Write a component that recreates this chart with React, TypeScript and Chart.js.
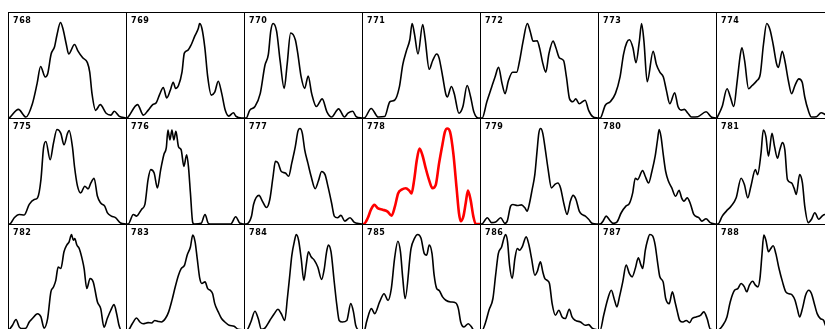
import React, { useEffect, useRef } from "react";
import { Chart, registerables } from "chart.js";

Chart.register(...registerables);

// Panel labels (row-major, 7 per row)
const PANEL_LABELS = [
  "768", "769", "770", "771", "772", "773", "774",
  "775", "776", "777", "778", "779", "780", "781",
  "782", "783", "784", "785", "786", "787", "788",
];
const HIGHLIGHT_LABEL = "778";

// Each series: [position (0-100), relative intensity (0-100)]
const s768 = [[0,0],[1,1],[8,9],[14.5,1],[20,15],[24,36],[27,54],[31,43],[33,46],[36,67],[39,75],[41,87],[44,100],[46,94],[49,77],[51,67],[56,77],[59,70],[63,63],[67,58],[69,48],[71,25],[74,8],[78,14],[83,5],[87,3],[90,7],[94,2],[100,0]];
const s769 = [[0,0],[1,1],[9,14],[14,3],[18,8],[22,14],[25,16],[28,25],[31,32],[34,21],[37,29],[39.5,37.5],[41.5,31],[44,34],[47,48],[49,68],[52,71],[55,77],[58,86],[61,94],[62,99],[64,94],[66.5,74],[69,43],[72,24],[75,27],[78,38.5],[81,25.5],[84,8],[87,2],[91,5.5],[93,2],[98,0],[100,0]];
const s770 = [[0,0],[1,0],[4,8],[8.5,12],[13,25.5],[17,55],[20,67],[22,91],[24,99],[27,91],[30,60],[33.5,31],[36,56],[39,89],[43,82],[45,68.5],[48,43],[51,31],[54,44],[57,25.5],[61,12],[66,20],[70,6.5],[74,1],[80,9.6],[85,1],[88,5],[92,7],[95,1.5],[100,0]];
const s771 = [[0,0],[1,0],[7,10],[13,1],[18.5,1.5],[23,17],[27,18.6],[31,32],[34,56],[37,70],[40,82],[42,99],[44,88],[47,67],[51,98],[53,84],[56.6,51],[59.5,60],[63,67],[65,63],[68,44],[71,24],[72,22],[75.6,33],[78,25.5],[82,5],[85.4,12],[89,34],[92,22],[94.7,6.5],[98.5,0],[100,0]];
const s772 = [[0,0],[1,0],[5,17],[9,32],[12,43],[15,53],[18,36],[20.6,25.5],[23.4,39],[27,48],[30.5,48],[33,60],[36,80.5],[39.6,99],[42,91],[44.6,80.5],[48,81],[50,73.6],[53,56.4],[55.4,48],[58,67],[61.6,80.5],[64,73.6],[67,63],[70.6,60],[73,43],[75.7,20],[78.5,17],[81,20],[84,15],[89,18.6],[92,8],[95.5,1.4],[100,0]];
const s773 = [[0,0],[1,0],[5.4,13.4],[9.6,17],[14,25.5],[18,43],[21,67],[23.7,79],[26,82],[29,73.6],[31.6,58],[34.5,80.5],[36.4,99],[38.4,80.5],[41.2,38],[46.3,70],[49,56.4],[52,48],[55,43],[57.6,29],[60.5,15],[64.7,26.5],[67.5,12],[70.3,8.3],[73,9],[76,5],[79,1],[84.5,1.4],[91.5,6.5],[96,1],[100,0]];
const s774 = [[0,0],[4.4,12],[8.6,30.6],[11.4,22],[14.3,12],[17,36],[20,67],[21.3,73.6],[23.6,60],[27,30.6],[30,34],[34,39],[37,46],[39.7,77],[42.5,99],[45.3,92.5],[48,77],[51,56.4],[52.4,53],[55.8,70],[58,60],[61,39],[63.7,25.5],[66.6,34],[70,41],[72.8,37.5],[75,22],[78,8],[80.7,1],[85,1.4],[89,5.5],[92,4],[96,1],[100,0]];
const s775 = [[0,0],[0.6,0],[4.5,6.6],[8.8,10],[13,9.4],[17.3,20.5],[21.6,25.7],[24.4,27.4],[27.3,46.5],[29.5,79.5],[31.5,86.4],[35.2,67.3],[38,84.6],[41,99],[44.3,95],[47,83],[50,95],[51.4,98],[54.2,81],[56,60],[58.5,40],[61.3,32.6],[64.8,39.6],[67.6,36.8],[70,43],[72.7,48],[75.6,29],[78.4,22],[81.8,18.7],[84,12],[87.5,8.3],[91,6.6],[95.4,1],[100,0]];
const s776 = [[0,0],[1,0],[5.4,10],[8.2,8.3],[12.4,15.3],[15.3,20.5],[18,46.5],[20.3,57],[23.2,53.4],[26,37.8],[28.8,57],[31.6,73],[33.6,80],[35,98.5],[36.7,88],[38.4,98.5],[40,88],[41.8,97],[44,81],[46.3,77.7],[48.6,60.4],[51,72.5],[52.5,60.4],[54.2,32.6],[56.2,1.4],[57.6,0],[63.3,0.7],[66.7,10],[69.5,0.7],[72,0],[88.7,0],[92.9,7.6],[96.6,0.7],[100,0]];
const s777 = [[0,0],[1,0],[5.6,8.3],[7.3,20.5],[12,30],[14.7,24.3],[18.4,17.3],[21.2,25.7],[24,50],[26,65.6],[28.2,64],[31,55],[34.5,53.4],[37.3,50],[40,64],[43,81],[45.2,97],[47,100],[49,95],[51,78],[53.7,64],[56.5,50],[60,37],[62.7,45],[65.5,55],[68.4,51.7],[71.2,37.8],[74,22],[76.3,8.3],[79,6.6],[82,9],[85.3,3],[89.8,6.6],[93.2,2],[96,0.7],[100,0]];
const s778 = [[0,0],[0.6,0],[4,6],[6.8,15],[9.7,20],[12.5,16.7],[16.8,15],[21,13],[24.4,8.7],[27.3,18.4],[30,32],[33,36],[36.6,37.5],[39.5,35],[41.5,32],[43.7,46],[46,67],[48.3,79],[50.8,72],[53.7,58],[56.5,46],[59.4,37.5],[62.2,41],[65,63.5],[68,84],[70,96.5],[72,100],[74.4,96.5],[77.2,74],[80,37.5],[82,11.5],[83.5,3],[85.8,8],[87.8,22],[89.7,35],[92,25],[94.3,8],[96.3,0],[100,0]];
const s779 = [[0,0],[0.6,0],[5.4,6.6],[9,1.4],[12.5,2],[16.8,6.6],[20.4,0.7],[22.4,3],[25.3,18.7],[27.3,20.5],[31,19.4],[34.6,20],[37.5,17],[39.5,13.5],[41.5,22],[43.7,36],[46,51.7],[48,77.7],[49.4,95],[51,100],[52.8,95],[55,77.7],[57.4,57],[60.2,37.8],[63,41.3],[65.6,43],[68,37.8],[70.7,22],[73.6,10],[76.4,24],[78.7,30],[81.2,25.7],[84,13.5],[86.3,10],[89.2,8.3],[92,5],[95,0.7],[100,0]];
const s780 = [[0,0],[1,0],[3.4,3],[6.2,8.3],[9,4.2],[12,0.7],[15.3,2],[19,11.8],[23,18.7],[26,21.5],[28.8,32.6],[31,48],[33,46.5],[37.3,56],[39.5,50],[42.4,43],[45.2,55],[48,71],[50,88],[51.4,99],[53,91.6],[54.8,74],[57,55],[59.3,45],[62.2,37.8],[65.5,29],[68.4,35.4],[70.6,27.4],[72.6,24],[75.4,27.4],[78.3,20.5],[81,10],[85.3,6.6],[88,3],[91.5,5.5],[95,1.4],[100,0]];
const s781 = [[0,0],[0.8,0],[4.5,8.3],[8,13.5],[12,18.7],[16.4,27.4],[20.6,48],[23.4,41.3],[26.3,27.4],[29,39.6],[32.8,57],[34.7,51.7],[37.6,74],[39.6,98.5],[41.8,91.6],[44,71],[47,95],[49.2,81],[51.7,69],[53.7,77.7],[56,85.3],[58,77.7],[60.2,46.5],[63.8,43],[65.8,37.8],[67.8,31],[70.6,51.7],[73,43],[75,18.7],[78,1.4],[80.8,5],[83.6,11.8],[87,5],[89.8,8.3],[92,10],[96,4],[100,0]];
const s782 = [[0,0],[3,5],[6,11],[8.8,3],[11.6,1.4],[14.5,2],[17.3,8.4],[20,12],[24.4,17],[27.3,13.7],[30,2],[33,12],[35.8,40],[38,45],[40,52],[42,66],[44.3,64.4],[47,82],[49.4,89],[51.4,92.4],[53.4,100],[55,94],[56.2,95.7],[58,89],[60,85.4],[62.8,73],[64.2,64.4],[66.5,43.4],[69.3,54],[72,50.4],[75.6,29.4],[78.4,22.4],[81.2,3],[84,12],[87,20.7],[89.8,26.6],[92,17],[94,5],[96,0],[100,0]];
const s783 = [[0,0],[1,0],[4.5,6.6],[8.2,12.6],[11,8.4],[13.8,6.6],[18,7.7],[21,7.4],[23.7,10],[26.6,9],[29.4,8.4],[32.8,12],[35.6,19],[38.4,31],[41.2,45],[44,57.4],[46.3,64.4],[49.2,68],[51.4,78.4],[54.2,87],[56.2,99.4],[58.2,92.4],[60,75],[62.2,54],[64,48.7],[66.7,50.4],[69,43.4],[71.2,41.6],[73.2,38],[75,27.6],[78,19],[80.8,12],[83.6,8.4],[87.3,5],[91.5,3.9],[95,0.7],[100,0]];
const s784 = [[0,0],[1.4,0],[5,8.4],[8.5,19.6],[11.3,12],[14,0.7],[17,2],[21.2,10],[25,17],[28.2,21.7],[31,17],[34,10],[36.2,33],[38,54],[40,78],[42.4,94],[43.8,100],[45.8,94],[48,75],[50.3,52],[52.3,68],[54.2,82],[56.5,76.7],[59.3,73],[62.2,66],[65.5,53],[67.8,64.4],[69.5,80],[71.2,89],[73.5,82],[76.3,50],[78.5,26],[80.5,10],[83.3,8.4],[87,10],[90.4,27.6],[92.7,19],[94.6,5],[97.5,0],[100,0]];
const s785 = [[0,0],[1.3,0],[3,8.4],[7.2,22.4],[10,17.2],[14.2,29.4],[18,38],[21.4,31],[24.2,43.4],[27,75],[29.8,93],[32,82],[34,54],[36,33],[41,85],[44,96],[46.8,100],[49.6,96],[52.4,80],[54.4,78.4],[56.6,89],[59,80],[60.8,57.4],[63,43.4],[65,41.6],[68,34.7],[70.8,31.2],[75,29.4],[79.2,28.4],[81.5,22.4],[83.5,8.4],[86.3,3.2],[90,6.6],[92.8,3.2],[94.7,0],[100,0]];
const s786 = [[0,0],[1,0],[4,8.4],[6.8,20.7],[10.2,33],[12.5,57.4],[14.8,80],[17.6,87],[19.6,96],[21,100],[22.7,92.4],[24.4,68],[26.7,54],[29,75],[31,85.4],[33,83.6],[35.2,87],[38.6,97.6],[41,89],[43.2,75],[46,57.4],[48,61],[50.8,71.4],[52.8,61],[54.5,54],[56.5,52],[58.5,48.7],[60.8,27.6],[63.6,15.4],[66.5,20.7],[69.3,13.7],[72,12],[75.5,21.7],[77.8,13.7],[80.7,10],[85,8.4],[89.2,5],[92,5.6],[95,2],[100,0]];
const s787 = [[0,0],[1,0],[4,15.4],[7.6,33],[10.5,41.6],[13.3,31.2],[15.3,24.2],[17.5,34.7],[20.3,50.4],[23.2,68],[26,59],[28.3,55.7],[31,64.4],[33.6,75.6],[35.9,68],[37.3,64.4],[39.6,83.6],[41.5,94],[43.5,100],[45.8,98.6],[48,89],[50,71.4],[52,55.7],[54.8,50.4],[57,33],[60,27.6],[62.7,40],[65,29.4],[67,19],[69,10],[71.8,8.4],[74.6,10],[77.4,7.7],[79.7,12],[83,13.7],[86.7,15.4],[89.6,19],[92.4,12],[95.2,0.7],[100,0]];
const s788 = [[0,0],[1,0],[5,5],[8.5,13.7],[11.3,29.4],[15,41.6],[17.8,43.4],[20.6,48.7],[23.4,45.2],[25.4,40],[27.7,47],[30.5,51],[32.8,47],[35,45.2],[36.7,54],[38.4,78.4],[40,99.4],[41.8,94],[44,82],[46,85.4],[48,88.2],[50.3,80],[53,64.4],[56,50.4],[58.8,40],[61.6,38],[64.4,36.4],[66.7,31.2],[68.6,22.4],[70.6,13.7],[73,22.4],[75.7,36.4],[78.5,41.6],[80.8,38],[82.8,29.4],[85.6,17.2],[88.4,12],[91.2,10],[92.7,5],[96,2],[100,0]];

const SERIES = [
  s768, s769, s770, s771, s772, s773, s774,
  s775, s776, s777, s778, s779, s780, s781,
  s782, s783, s784, s785, s786, s787, s788,
];

const COLS = 7;
const PANEL_W = 118;
const PANEL_H = 106;
const ORIGIN_X = 8;
const ORIGIN_Y = 12;

function Panel({ label, points, index }: { label: string; points: number[][]; index: number }) {
  const ref = useRef<HTMLCanvasElement>(null);
  const col = index % COLS;
  const row = Math.floor(index / COLS);
  useEffect(() => {
    const hl = label === HIGHLIGHT_LABEL;
    const chart = new Chart(ref.current!, {
      type: "line",
      data: {
        datasets: [
          {
            data: points.map(([x, y]) => ({ x, y })),
            borderColor: hl ? "#ff0000" : "#000000",
            borderWidth: hl ? 2.6 : 1.6,
            pointRadius: 0,
            fill: false,
            cubicInterpolationMode: "monotone",
          },
        ],
      },
      options: {
        responsive: false,
        animation: false,
        devicePixelRatio: 1,
        events: [],
        layout: { padding: 0 },
        plugins: { legend: { display: false }, tooltip: { enabled: false } },
        scales: {
          x: { type: "linear", min: 0, max: 100, display: false },
          y: { type: "linear", min: 0, max: 110, display: false },
        },
      },
    } as any);
    return () => chart.destroy();
  }, []);
  return (
    <div
      style={{
        position: "absolute",
        left: ORIGIN_X + col * PANEL_W,
        top: ORIGIN_Y + row * PANEL_H,
        width: PANEL_W + 1,
        height: PANEL_H + 1,
        border: "1px solid #000",
        boxSizing: "border-box",
      }}
    >
      <canvas
        ref={ref}
        width={PANEL_W - 1}
        height={PANEL_H - 1}
        style={{ position: "absolute", left: 0, top: 0, display: "block" }}
      />
      <div
        style={{
          position: "absolute",
          left: 4,
          top: 3,
          fontFamily: '"DejaVu Sans", sans-serif',
          fontWeight: "bold",
          fontSize: 8,
          letterSpacing: 0.6,
          lineHeight: "9px",
          color: "#000",
        }}
      >
        {label}
      </div>
    </div>
  );
}

export default function App() {
  return (
    <div
      style={{
        position: "fixed",
        left: 0,
        top: 0,
        width: 825,
        height: 329,
        overflow: "hidden",
        background: "#fff",
      }}
    >
      {PANEL_LABELS.map((label, i) => (
        <Panel key={label} label={label} points={SERIES[i]} index={i} />
      ))}
    </div>
  );
}
